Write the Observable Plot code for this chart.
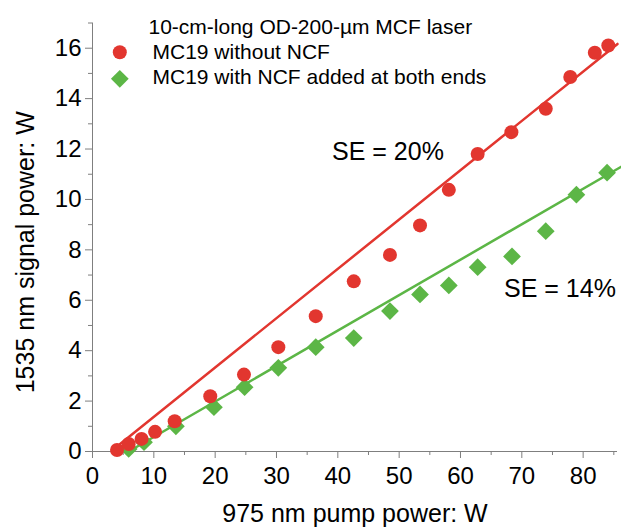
<!DOCTYPE html>
<html>
<head>
<meta charset="utf-8">
<script src="https://cdn.jsdelivr.net/npm/d3@7"></script>
<script src="https://cdn.jsdelivr.net/npm/@observablehq/plot@0.6"></script>
<style>
  html, body { margin: 0; padding: 0; background: #fff; }
  #chart svg { display: block; }
</style>
</head>
<body>
<div id="chart"></div>
<script>
// Measured signal power vs. pump power for the MC19 multicore fibre laser
const redPump = [4.0, 5.9, 8.0, 10.2, 13.4, 19.2, 24.7, 30.3, 36.4, 42.6, 48.5, 53.4, 58.1, 62.8, 68.3, 73.9, 77.9, 81.9, 84.1];
const redSignal = [0.06, 0.3, 0.5, 0.78, 1.2, 2.19, 3.05, 4.14, 5.37, 6.75, 7.8, 8.97, 10.38, 11.8, 12.67, 13.6, 14.86, 15.82, 16.11];

const greenPump = [5.9, 8.4, 13.6, 19.8, 24.8, 30.3, 36.4, 42.6, 48.5, 53.4, 58.1, 62.8, 68.4, 73.9, 78.9, 83.9];
const greenSignal = [0.1, 0.37, 1.0, 1.76, 2.55, 3.32, 4.14, 4.5, 5.57, 6.23, 6.59, 7.31, 7.74, 8.74, 10.19, 11.06];

// Linear fits (slope efficiency)
const redFitPump = [4.5, 85.6];
const redFitSignal = [0.3, 16.17];
const greenFitPump = [5.9, 86.3];
const greenFitSignal = [0, 11.31];

// Axis ticks
const xMajor = [0, 10, 20, 30, 40, 50, 60, 70, 80];
const xMinor = [5, 15, 25, 35, 45, 55, 65, 75, 85];
const yMajor = [0, 2, 4, 6, 8, 10, 12, 14, 16];
const yMinor = [1, 3, 5, 7, 9, 11, 13, 15, 17];

// Text
const xLabel = "975 nm pump power: W";
const yLabel = "1535 nm signal power: W";
const legendTitle = "10-cm-long OD-200-\u00b5m MCF laser";
const seriesNames = ["MC19 without NCF", "MC19 with NCF added at both ends"];
const seLabels = ["SE = 20%", "SE = 14%"];

const RED = "#e2362f";
const GREEN = "#5cb646";
const AXIS = "#7f7f7f";

const rows = (xs, ys) => xs.map((p, i) => ({pump: p, signal: ys[i]}));
const red = rows(redPump, redSignal);
const green = rows(greenPump, greenSignal);
const redFit = rows(redFitPump, redFitSignal);
const greenFit = rows(greenFitPump, greenFitSignal);

const label = (s, o) => Plot.text([s], {text: d => d, frameAnchor: "top-left", textAnchor: "start", lineAnchor: "bottom", fill: "black", ...o});

const chart = Plot.plot({
  width: 621,
  height: 527,
  marginLeft: 92,
  marginRight: 4,
  marginTop: 22.5,
  marginBottom: 76,
  style: {fontFamily: "'Liberation Sans', Arial, sans-serif", background: "#fff", overflow: "visible"},
  x: {domain: [0, 85.6]},
  y: {domain: [0, 17]},
  marks: [
    // axis lines
    Plot.ruleX([0], {stroke: AXIS}),
    Plot.ruleY([0], {stroke: AXIS}),
    // ticks
    Plot.axisX({ticks: xMajor, tickSize: 7, tickPadding: 8, fontSize: 24, stroke: AXIS, fill: "black", label: null}),
    Plot.axisX({ticks: xMinor, tickSize: 4, tickFormat: () => "", stroke: AXIS, label: null}),
    Plot.axisY({ticks: yMajor, tickSize: 7, tickPadding: 4, fontSize: 24, stroke: AXIS, fill: "black", label: null}),
    Plot.axisY({ticks: yMinor, tickSize: 4, tickFormat: () => "", stroke: AXIS, label: null}),
    // axis titles
    Plot.text([xLabel], {text: d => d, frameAnchor: "bottom", textAnchor: "middle", lineAnchor: "bottom", dy: 70, fontSize: 25, fill: "black"}),
    Plot.text([yLabel], {text: d => d, frameAnchor: "left", textAnchor: "middle", lineAnchor: "bottom", rotate: -90, dx: -59, dy: 15, fontSize: 25, fill: "black"}),
    // fit lines
    Plot.line(redFit, {x: "pump", y: "signal", stroke: RED, strokeWidth: 2.5}),
    Plot.line(greenFit, {x: "pump", y: "signal", stroke: GREEN, strokeWidth: 2.5}),
    // measurements
    Plot.dot(green, {x: "pump", y: "signal", symbol: "diamond2", r: 8, fill: GREEN, stroke: null}),
    Plot.dot(red, {x: "pump", y: "signal", r: 7, fill: RED, stroke: null}),
    // slope efficiency annotations
    label(seLabels[0], {dx: 239.5, dy: 136.8, fontSize: 25}),
    label(seLabels[1], {dx: 411.5, dy: 274.2, fontSize: 25}),
    // legend
    label(legendTitle, {dx: 56, dy: 10.8, fontSize: 21}),
    Plot.dot([0], {frameAnchor: "top-left", dx: 27.3, dy: 29.2, r: 7, fill: RED, stroke: null}),
    Plot.dot([0], {frameAnchor: "top-left", dx: 27.3, dy: 55.8, r: 8, symbol: "diamond2", fill: GREEN, stroke: null}),
    label(seriesNames[0], {dx: 60, dy: 35.8, fontSize: 21}),
    label(seriesNames[1], {dx: 60, dy: 60.8, fontSize: 21})
  ]
});

document.getElementById("chart").appendChild(chart);
</script>
</body>
</html>
